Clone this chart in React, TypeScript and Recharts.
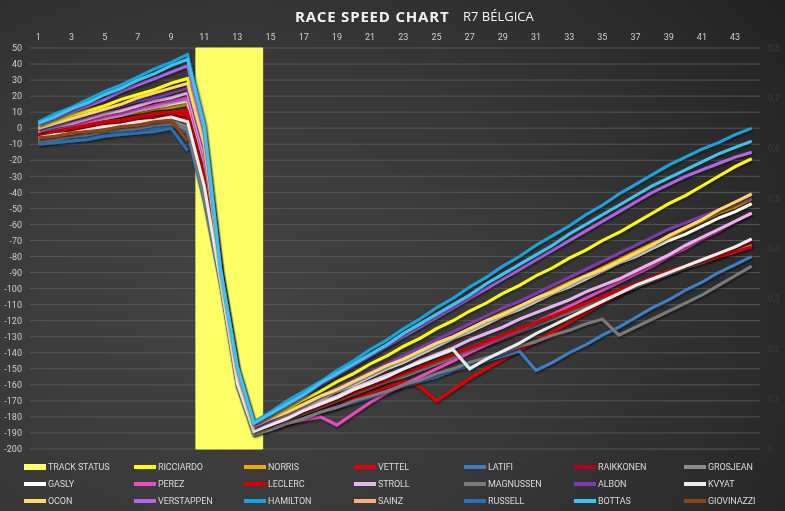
import React from 'react';
import { ComposedChart, Line, Bar, XAxis, YAxis, CartesianGrid } from 'recharts';

const laps = [1,2,3,4,5,6,7,8,9,10,11,12,13,14,15,16,17,18,19,20,21,22,23,24,25,26,27,28,29,30,31,32,33,34,35,36,37,38,39,40,41,42,43,44];

const trackStatus = [null,null,null,null,null,null,null,null,null,null,0.8,0.8,0.8,0.8,null,null,null,null,null,null,null,null,null,null,null,null,null,null,null,null,null,null,null,null,null,null,null,null,null,null,null,null,null,null];

const hamilton = [4,9,13,18,23,27,32,37,41,46, 3,-88,-148,-183, -177,-170,-164,-158,-151,-145,-138,-132,-125,-119,-112,-106,-99,-93,-86,-80,-73,-67,-61,-54,-48,-41,-35,-29,-23,-18,-13,-9,-4,0];
const bottas = [3,7,12,16,21,25,30,34,39,43, 1,-89,-149,-184, -178,-172,-166,-159,-153,-147,-141,-135,-128,-122,-116,-110,-104,-97,-91,-85,-79,-73,-66,-60,-54,-48,-42,-36,-31,-26,-21,-16,-12,-8];
const verstappen = [2,6,10,14,18,23,27,31,35,39, -3,-89,-150,-185, -179,-173,-167,-160,-154,-148,-142,-136,-130,-124,-118,-112,-106,-100,-94,-88,-82,-76,-70,-64,-58,-52,-46,-40,-35,-30,-26,-22,-18,-15];
const ricciardo = [1,4,8,11,14,18,21,24,28,31, -7,-90,-151,-186, -180,-175,-169,-164,-158,-153,-147,-142,-136,-131,-125,-120,-114,-109,-103,-98,-92,-87,-81,-76,-70,-65,-59,-53,-47,-42,-36,-30,-24,-19];
const ocon = [0,3,6,9,12,15,19,22,25,28, -10,-91,-152,-186, -181,-177,-172,-167,-163,-158,-153,-148,-144,-139,-134,-130,-125,-120,-116,-111,-106,-102,-97,-92,-88,-83,-78,-73,-67,-62,-57,-51,-46,-41];
const albon = [-1,2,5,8,11,14,17,19,22,25, -13,-91,-153,-187, -182,-177,-172,-167,-162,-157,-152,-147,-142,-137,-132,-127,-122,-117,-112,-108,-103,-98,-93,-88,-83,-78,-73,-68,-63,-59,-55,-51,-47,-43];
const stroll = [-2,1,3,6,9,11,14,17,19,22, -16,-92,-154,-188, -184,-180,-175,-171,-167,-162,-158,-154,-150,-145,-141,-137,-132,-128,-124,-119,-115,-111,-107,-102,-98,-94,-89,-84,-79,-73,-68,-63,-58,-53];
const perez = [-3,-1,2,4,7,9,12,14,17,19, -19,-92,-155,-187, -185,-184,-182,-180,-185,-178,-171,-165,-160,-155,-150,-145,-140,-135,-130,-126,-121,-116,-111,-106,-101,-96,-91,-86,-80,-75,-69,-64,-58,-53];
const gasly = [-3,-1,1,4,6,8,11,13,15,17, -21,-93,-155,-188, -183,-179,-174,-169,-164,-160,-155,-150,-146,-141,-136,-131,-127,-122,-117,-113,-108,-103,-99,-94,-89,-84,-80,-75,-70,-66,-61,-56,-52,-47];
const norris = [-2,0,2,4,6,8,10,12,13,15, -24,-93,-156,-187, -182,-177,-173,-168,-163,-158,-153,-149,-144,-139,-134,-130,-125,-120,-115,-111,-106,-101,-96,-92,-87,-82,-77,-72,-68,-63,-58,-53,-49,-44];
const vettel = [-4,-2,0,2,4,5,7,9,10,11, -27,-94,-157,-190, -186,-182,-178,-175,-171,-168,-165,-161,-158,-161,-170,-163,-156,-150,-144,-138,-133,-127,-121,-115,-109,-104,-98,-94,-90,-86,-82,-79,-75,-72];
const leclerc = [-4,-2,0,2,4,5,7,9,10,8, -30,-95,-158,-189, -185,-181,-177,-173,-169,-165,-161,-157,-153,-149,-145,-141,-137,-133,-129,-125,-121,-117,-113,-109,-105,-101,-97,-93,-89,-86,-83,-80,-77,-74];
const raikkonen = [-5,-3,-2,0,2,3,5,7,8,6, -33,-95,-158,-190, -186,-182,-178,-174,-170,-166,-162,-158,-154,-150,-146,-142,-138,-134,-130,-126,-122,-118,-114,-110,-106,-102,-98,-94,-90,-86,-82,-78,-74,-70];
const kvyat = [-6,-4,-3,-1,1,2,4,5,7,4, -36,-96,-159,-189, -185,-181,-176,-172,-168,-163,-159,-155,-150,-146,-142,-138,-150,-144,-139,-134,-128,-123,-118,-113,-108,-103,-98,-94,-90,-86,-82,-78,-74,-69];
const grosjean = [-7,-5,-4,-2,-1,1,2,4,5,1, -40,-97,-160,-190, -186,-182,-178,-174,-170,-166,-162,-158,-155,-151,-147,-143,-139,-135,-131,-127,-123,-119,-115,-111,-107,-103,-99,-95,-91,-87,-84,-80,-77,-73];
const magnussen = [-8,-7,-5,-4,-2,-1,0,2,3,-1, -43,-97,-160,-191, -188,-184,-181,-177,-174,-170,-167,-164,-160,-157,-153,-150,-146,-143,-140,-136,-133,-129,-126,-122,-119,-129,-124,-119,-114,-109,-104,-98,-92,-86];
const latifi = [-9,-8,-6,-5,-4,-2,-1,0,2,-3, -46,-98,-161,-190, -187,-184,-181,-177,-174,-171,-168,-164,-161,-158,-155,-151,-148,-145,-142,-139,-151,-146,-140,-135,-129,-124,-118,-112,-107,-101,-96,-90,-85,-80];
const russell = [-10,-9,-8,-7,-5,-4,-3,-2,0,-14, null,null,null,null,null,null,null,null,null,null,null,null,null,null,null,null,null,null,null,null,null,null,null,null,null,null,null,null,null,null,null,null,null,null];
const giovinazzi = [-6,-5,-3,-2,-1,1,2,4,5,-8, null,null,null,null,null,null,null,null,null,null,null,null,null,null,null,null,null,null,null,null,null,null,null,null,null,null,null,null,null,null,null,null,null,null];
const sainz = [null,null,null,null,null,null,null,null,null,null,null,null,null,null,null,null,null,null,null,null,null,null,null,null,null,null,null,null,null,null,null,null,null,null,null,null,null,null,null,null,null,null,null,null];

const leftTicks = [50,40,30,20,10,0,-10,-20,-30,-40,-50,-60,-70,-80,-90,-100,-110,-120,-130,-140,-150,-160,-170,-180,-190,-200];
const rightTicks = [0,0.1,0.2,0.3,0.4,0.5,0.6,0.7,0.8];

const legendOrder = ['TRACK STATUS','RICCIARDO','NORRIS','VETTEL','LATIFI','RAIKKONEN','GROSJEAN','GASLY','PEREZ','LECLERC','STROLL','MAGNUSSEN','ALBON','KVYAT','OCON','VERSTAPPEN','HAMILTON','SAINZ','RUSSELL','BOTTAS','GIOVINAZZI'];

const seriesValues: Record<string, (number | null)[]> = {
  'TRACK STATUS': trackStatus,
  RICCIARDO: ricciardo, NORRIS: norris, VETTEL: vettel, LATIFI: latifi, RAIKKONEN: raikkonen, GROSJEAN: grosjean,
  GASLY: gasly, PEREZ: perez, LECLERC: leclerc, STROLL: stroll, MAGNUSSEN: magnussen, ALBON: albon, KVYAT: kvyat,
  OCON: ocon, VERSTAPPEN: verstappen, HAMILTON: hamilton, SAINZ: sainz, RUSSELL: russell, BOTTAS: bottas, GIOVINAZZI: giovinazzi,
};

const colors: Record<string, string> = {
  'TRACK STATUS': '#ffff66', RICCIARDO: '#ffff00', NORRIS: '#f4a700', VETTEL: '#e60000', LATIFI: '#3c7fc4',
  RAIKKONEN: '#b8001c', GROSJEAN: '#8c8c8c', GASLY: '#ffffff', PEREZ: '#e84cc0', LECLERC: '#d40000',
  STROLL: '#e8b4f0', MAGNUSSEN: '#7a7a7a', ALBON: '#7a3cb0', KVYAT: '#ececec', OCON: '#ffd966',
  VERSTAPPEN: '#b266e8', HAMILTON: '#1aa2db', SAINZ: '#f4b183', RUSSELL: '#2b6fb3', BOTTAS: '#3ec4f0', GIOVINAZZI: '#8b4513',
};

const data = laps.map((lap, i) => {
  const row: Record<string, number | null> = { lap };
  legendOrder.forEach((k) => { row[k] = seriesValues[k][i]; });
  return row;
});

const lineKeys = legendOrder.filter((k) => k !== 'TRACK STATUS');
const font = 'Roboto, "Open Sans", sans-serif';
const fmtRight = (v: number) => (v === 0 ? '0' : v.toFixed(1).replace('.', ','));

export default function App() {
  return (
    <div style={{ position: 'fixed', left: 0, top: 0, width: 785, height: 511, overflow: 'hidden',
      background: 'radial-gradient(ellipse 90% 110% at 30% 60%, #434343 0%, #383838 45%, #202020 100%)', fontFamily: font }}>
      <div style={{ position: 'absolute', left: 295, top: 6, fontFamily: '"Open Sans", sans-serif', fontWeight: 700, fontSize: 15, letterSpacing: 0.8, color: '#f2f2f2', whiteSpace: 'nowrap' }}>RACE SPEED CHART</div>
      <div style={{ position: 'absolute', left: 463, top: 7, fontFamily: '"Open Sans", sans-serif', fontSize: 13, color: '#f2f2f2', whiteSpace: 'nowrap' }}>R7 BÉLGICA</div>
      <div style={{ position: 'absolute', left: 0, top: 0 }}>
        <ComposedChart width={785} height={460} data={data} margin={{ top: 28, right: 0, bottom: 11, left: 8 }} barCategoryGap={0} barGap={0}>
          <defs>
            <filter id="lineShadow" x="-5%" y="-5%" width="110%" height="115%">
              <feDropShadow dx="1" dy="1.5" stdDeviation="1" floodColor="#000000" floodOpacity="0.55" />
            </filter>
          </defs>
          <CartesianGrid yAxisId="left" vertical={false} stroke="#575757" strokeWidth={1} />
          <XAxis dataKey="lap" orientation="top" height={20} interval={1} axisLine={false} tickLine={false}
            tick={{ fill: '#d0d0d0', fontSize: 9, fontFamily: font }} />
          <YAxis yAxisId="left" domain={[-200, 50]} ticks={leftTicks} width={22} axisLine={false} tickLine={false} interval={0}
            tick={{ fill: '#d0d0d0', fontSize: 9, fontFamily: font }} />
          <YAxis yAxisId="right" orientation="right" domain={[0, 0.8]} ticks={rightTicks} width={25} axisLine={false} tickLine={false} interval={0}
            tickFormatter={fmtRight} tick={{ fill: '#3e3e3e', fontSize: 9, fontFamily: font }} />
          <Bar yAxisId="right" dataKey="TRACK STATUS" fill={colors['TRACK STATUS']} stroke={colors['TRACK STATUS']} strokeWidth={1} isAnimationActive={false} />
          {lineKeys.map((k) => (
            <Line key={k} yAxisId="left" type="linear" dataKey={k} stroke={colors[k]} strokeWidth={3} dot={false}
              activeDot={false} isAnimationActive={false} connectNulls={false} filter="url(#lineShadow)" />
          ))}
        </ComposedChart>
      </div>
      {legendOrder.map((k, i) => {
        const col = i % 7;
        const row = Math.floor(i / 7);
        const x = 24 + col * 110;
        const y = 467 + row * 17;
        const isBox = k === 'TRACK STATUS';
        return (
          <div key={k} style={{ position: 'absolute', left: x, top: y - 6, height: 12, display: 'flex', alignItems: 'center', whiteSpace: 'nowrap' }}>
            <div style={{ width: 22, height: isBox ? 6 : 4, background: colors[k], marginRight: 2 }} />
            <span style={{ fontSize: 9, color: '#d9d9d9', letterSpacing: -0.1, fontFamily: font }}>{k}</span>
          </div>
        );
      })}
    </div>
  );
}
